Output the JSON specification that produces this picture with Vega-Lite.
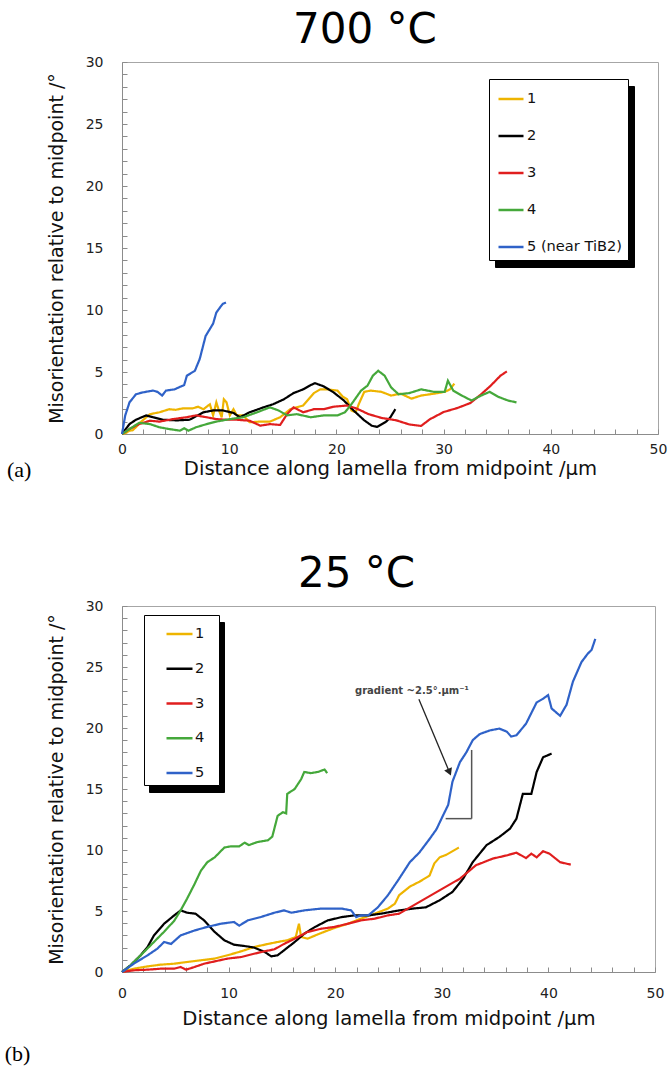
{
  "$schema": "https://vega.github.io/schema/vega-lite/v6.json",
  "background": "white",
  "padding": {"left": 4, "top": 8, "right": 2, "bottom": 5},
  "config": {
    "font": "DejaVu Sans",
    "view": {"stroke": "#a6a6a6", "strokeWidth": 1},
    "axis": {
      "grid": false, "domainColor": "#8c8c8c", "tickColor": "#8c8c8c", "tickSize": -5, "tickCount": 100,
      "labelFont": "DejaVu Sans", "labelFontSize": 14, "labelColor": "#222", "labelFlush": false, "labelOverlap": false,
      "titleFont": "DejaVu Sans", "titleFontWeight": "normal", "titleColor": "#111"
    },
    "axisX": {"titleFontSize": 19.6},
    "axisY": {"labelPadding": 24, "titlePadding": 19, "titleFontSize": 19}
  },
  "datasets": {
    "a": [
      {"s":"1","x":0,"y":0},{"s":"1","x":0.4,"y":0.1},{"s":"1","x":0.7,"y":0.27},{"s":"1","x":1.0,"y":0.3},{"s":"1","x":1.3,"y":0.55},{"s":"1","x":1.8,"y":1.0},{"s":"1","x":2.6,"y":1.6},{"s":"1","x":3.5,"y":1.75},{"s":"1","x":4.4,"y":2.0},{"s":"1","x":5.0,"y":1.95},{"s":"1","x":5.7,"y":2.07},{"s":"1","x":6.6,"y":2.07},{"s":"1","x":7.1,"y":2.2},{"s":"1","x":7.6,"y":2.0},{"s":"1","x":8.2,"y":2.4},{"s":"1","x":8.5,"y":1.5},{"s":"1","x":8.8,"y":2.55},{"s":"1","x":9.0,"y":2.0},{"s":"1","x":9.3,"y":1.35},{"s":"1","x":9.5,"y":2.8},{"s":"1","x":9.75,"y":2.55},{"s":"1","x":10.06,"y":1.5},{"s":"1","x":10.4,"y":2.0},{"s":"1","x":10.7,"y":1.5},{"s":"1","x":11.3,"y":1.5},{"s":"1","x":11.9,"y":0.95},{"s":"1","x":12.9,"y":1.0},{"s":"1","x":13.8,"y":1.0},{"s":"1","x":14.75,"y":1.35},{"s":"1","x":15.7,"y":2.0},{"s":"1","x":16.9,"y":2.3},{"s":"1","x":17.9,"y":3.3},{"s":"1","x":18.5,"y":3.6},{"s":"1","x":19.2,"y":3.6},{"s":"1","x":20.1,"y":3.5},{"s":"1","x":20.6,"y":3.0},{"s":"1","x":21.0,"y":2.8},{"s":"1","x":21.4,"y":1.9},{"s":"1","x":21.8,"y":1.75},{"s":"1","x":22.1,"y":2.44},{"s":"1","x":22.6,"y":3.4},{"s":"1","x":23.2,"y":3.5},{"s":"1","x":24.2,"y":3.4},{"s":"1","x":25.1,"y":3.1},{"s":"1","x":26.0,"y":3.25},{"s":"1","x":27.0,"y":2.85},{"s":"1","x":27.9,"y":3.1},{"s":"1","x":29.1,"y":3.25},{"s":"1","x":30.1,"y":3.4},{"s":"1","x":30.6,"y":3.6},{"s":"1","x":31.0,"y":4.06},
      {"s":"2","x":0,"y":0},{"s":"2","x":0.7,"y":0.8},{"s":"2","x":1.3,"y":1.15},{"s":"2","x":2.25,"y":1.5},{"s":"2","x":2.9,"y":1.35},{"s":"2","x":3.8,"y":1.15},{"s":"2","x":5.1,"y":1.1},{"s":"2","x":6.3,"y":1.15},{"s":"2","x":7.6,"y":1.75},{"s":"2","x":8.5,"y":1.9},{"s":"2","x":9.4,"y":1.9},{"s":"2","x":10.4,"y":1.7},{"s":"2","x":11.0,"y":1.35},{"s":"2","x":11.9,"y":1.75},{"s":"2","x":13.2,"y":2.15},{"s":"2","x":14.1,"y":2.4},{"s":"2","x":15.1,"y":2.8},{"s":"2","x":16.0,"y":3.3},{"s":"2","x":16.9,"y":3.6},{"s":"2","x":17.5,"y":3.9},{"s":"2","x":18.0,"y":4.1},{"s":"2","x":18.8,"y":3.85},{"s":"2","x":19.75,"y":3.35},{"s":"2","x":20.7,"y":2.7},{"s":"2","x":21.6,"y":1.9},{"s":"2","x":22.6,"y":1.1},{"s":"2","x":23.3,"y":0.67},{"s":"2","x":23.8,"y":0.57},{"s":"2","x":24.6,"y":0.97},{"s":"2","x":25.0,"y":1.3},{"s":"2","x":25.5,"y":2.0},
      {"s":"3","x":0,"y":0},{"s":"3","x":0.7,"y":0.4},{"s":"3","x":1.6,"y":0.8},{"s":"3","x":2.6,"y":1.07},{"s":"3","x":3.5,"y":1.0},{"s":"3","x":4.75,"y":1.2},{"s":"3","x":6.0,"y":1.35},{"s":"3","x":6.9,"y":1.5},{"s":"3","x":7.9,"y":1.35},{"s":"3","x":8.8,"y":1.2},{"s":"3","x":9.75,"y":1.15},{"s":"3","x":10.7,"y":1.15},{"s":"3","x":11.9,"y":1.07},{"s":"3","x":12.9,"y":0.67},{"s":"3","x":13.8,"y":0.8},{"s":"3","x":14.75,"y":0.73},{"s":"3","x":15.4,"y":1.6},{"s":"3","x":16.0,"y":2.15},{"s":"3","x":16.9,"y":1.75},{"s":"3","x":17.9,"y":2.0},{"s":"3","x":18.8,"y":2.0},{"s":"3","x":19.75,"y":2.2},{"s":"3","x":21.0,"y":2.3},{"s":"3","x":21.9,"y":2.05},{"s":"3","x":23.0,"y":1.6},{"s":"3","x":24.2,"y":1.3},{"s":"3","x":25.6,"y":1.1},{"s":"3","x":26.8,"y":0.77},{"s":"3","x":27.9,"y":0.65},{"s":"3","x":28.7,"y":1.18},{"s":"3","x":30.0,"y":1.77},{"s":"3","x":31.3,"y":2.1},{"s":"3","x":32.5,"y":2.5},{"s":"3","x":33.5,"y":3.2},{"s":"3","x":34.4,"y":3.9},{"s":"3","x":35.3,"y":4.7},{"s":"3","x":35.9,"y":5.05},
      {"s":"4","x":0,"y":0},{"s":"4","x":0.7,"y":0.4},{"s":"4","x":1.6,"y":0.9},{"s":"4","x":2.6,"y":0.8},{"s":"4","x":3.5,"y":0.54},{"s":"4","x":4.4,"y":0.4},{"s":"4","x":5.4,"y":0.27},{"s":"4","x":5.8,"y":0.46},{"s":"4","x":6.2,"y":0.27},{"s":"4","x":6.9,"y":0.54},{"s":"4","x":7.9,"y":0.8},{"s":"4","x":8.8,"y":1.0},{"s":"4","x":10.06,"y":1.2},{"s":"4","x":11.3,"y":1.35},{"s":"4","x":12.6,"y":1.75},{"s":"4","x":13.8,"y":2.15},{"s":"4","x":14.6,"y":1.9},{"s":"4","x":15.4,"y":1.5},{"s":"4","x":16.3,"y":1.6},{"s":"4","x":17.6,"y":1.35},{"s":"4","x":18.8,"y":1.5},{"s":"4","x":20.1,"y":1.5},{"s":"4","x":20.8,"y":1.75},{"s":"4","x":21.4,"y":2.4},{"s":"4","x":22.3,"y":3.5},{"s":"4","x":22.9,"y":3.9},{"s":"4","x":23.4,"y":4.7},{"s":"4","x":23.9,"y":5.1},{"s":"4","x":24.5,"y":4.7},{"s":"4","x":25.1,"y":3.76},{"s":"4","x":25.8,"y":3.2},{"s":"4","x":26.8,"y":3.3},{"s":"4","x":27.9,"y":3.6},{"s":"4","x":29.1,"y":3.4},{"s":"4","x":30.1,"y":3.4},{"s":"4","x":30.4,"y":4.3},{"s":"4","x":30.9,"y":3.5},{"s":"4","x":31.7,"y":3.1},{"s":"4","x":32.6,"y":2.7},{"s":"4","x":33.5,"y":3.1},{"s":"4","x":34.3,"y":3.4},{"s":"4","x":35.1,"y":3.0},{"s":"4","x":36.0,"y":2.7},{"s":"4","x":36.8,"y":2.55},
      {"s":"5 (near TiB2)","x":0,"y":0},{"s":"5 (near TiB2)","x":0.3,"y":1.5},{"s":"5 (near TiB2)","x":0.7,"y":2.55},{"s":"5 (near TiB2)","x":1.3,"y":3.2},{"s":"5 (near TiB2)","x":1.9,"y":3.35},{"s":"5 (near TiB2)","x":2.9,"y":3.5},{"s":"5 (near TiB2)","x":3.3,"y":3.4},{"s":"5 (near TiB2)","x":3.75,"y":3.1},{"s":"5 (near TiB2)","x":4.1,"y":3.5},{"s":"5 (near TiB2)","x":4.9,"y":3.6},{"s":"5 (near TiB2)","x":5.8,"y":3.95},{"s":"5 (near TiB2)","x":6.05,"y":4.7},{"s":"5 (near TiB2)","x":6.8,"y":5.1},{"s":"5 (near TiB2)","x":7.25,"y":6.05},{"s":"5 (near TiB2)","x":7.8,"y":7.9},{"s":"5 (near TiB2)","x":8.5,"y":8.9},{"s":"5 (near TiB2)","x":8.8,"y":9.8},{"s":"5 (near TiB2)","x":9.4,"y":10.5},{"s":"5 (near TiB2)","x":9.7,"y":10.6}
    ],
    "b": [
      {"s":"1","x":0,"y":0},{"s":"1","x":1.1,"y":0.27},{"s":"1","x":2.4,"y":0.46},{"s":"1","x":3.6,"y":0.6},{"s":"1","x":4.9,"y":0.68},{"s":"1","x":6.1,"y":0.82},{"s":"1","x":7.4,"y":0.96},{"s":"1","x":8.7,"y":1.1},{"s":"1","x":9.9,"y":1.37},{"s":"1","x":11.2,"y":1.7},{"s":"1","x":12.4,"y":2.05},{"s":"1","x":13.7,"y":2.3},{"s":"1","x":14.6,"y":2.46},{"s":"1","x":15.5,"y":2.6},{"s":"1","x":16.3,"y":2.87},{"s":"1","x":16.6,"y":3.96},{"s":"1","x":16.8,"y":2.87},{"s":"1","x":17.4,"y":2.73},{"s":"1","x":18.7,"y":3.2},{"s":"1","x":19.9,"y":3.6},{"s":"1","x":21.2,"y":3.96},{"s":"1","x":22.4,"y":4.37},{"s":"1","x":23.7,"y":4.78},{"s":"1","x":24.95,"y":5.2},{"s":"1","x":25.6,"y":5.6},{"s":"1","x":26.0,"y":6.3},{"s":"1","x":27.0,"y":7.0},{"s":"1","x":27.9,"y":7.4},{"s":"1","x":28.85,"y":7.9},{"s":"1","x":29.3,"y":8.9},{"s":"1","x":29.8,"y":9.4},{"s":"1","x":30.4,"y":9.6},{"s":"1","x":31.6,"y":10.2},
      {"s":"2","x":0,"y":0},{"s":"2","x":0.8,"y":0.55},{"s":"2","x":1.75,"y":1.37},{"s":"2","x":2.4,"y":2.05},{"s":"2","x":3.0,"y":3.0},{"s":"2","x":3.95,"y":3.96},{"s":"2","x":4.9,"y":4.64},{"s":"2","x":5.5,"y":5.05},{"s":"2","x":6.1,"y":4.86},{"s":"2","x":6.9,"y":4.78},{"s":"2","x":7.7,"y":4.23},{"s":"2","x":8.7,"y":3.28},{"s":"2","x":9.6,"y":2.6},{"s":"2","x":10.5,"y":2.24},{"s":"2","x":11.5,"y":2.13},{"s":"2","x":12.4,"y":2.0},{"s":"2","x":13.4,"y":1.64},{"s":"2","x":14.0,"y":1.28},{"s":"2","x":14.6,"y":1.37},{"s":"2","x":15.2,"y":1.78},{"s":"2","x":16.2,"y":2.46},{"s":"2","x":17.1,"y":3.14},{"s":"2","x":18.1,"y":3.69},{"s":"2","x":19.3,"y":4.23},{"s":"2","x":20.6,"y":4.5},{"s":"2","x":21.8,"y":4.64},{"s":"2","x":23.1,"y":4.64},{"s":"2","x":24.3,"y":4.78},{"s":"2","x":26.0,"y":5.05},{"s":"2","x":27.3,"y":5.2},{"s":"2","x":28.5,"y":5.3},{"s":"2","x":29.8,"y":5.88},{"s":"2","x":31.0,"y":6.56},{"s":"2","x":32.0,"y":7.65},{"s":"2","x":32.9,"y":9.0},{"s":"2","x":34.2,"y":10.4},{"s":"2","x":35.4,"y":11.07},{"s":"2","x":36.4,"y":11.75},{"s":"2","x":37.0,"y":12.56},{"s":"2","x":37.6,"y":14.6},{"s":"2","x":38.4,"y":14.6},{"s":"2","x":38.9,"y":16.4},{"s":"2","x":39.5,"y":17.6},{"s":"2","x":40.3,"y":17.9},
      {"s":"3","x":0,"y":0},{"s":"3","x":1.1,"y":0.14},{"s":"3","x":2.4,"y":0.19},{"s":"3","x":3.6,"y":0.27},{"s":"3","x":4.9,"y":0.27},{"s":"3","x":5.5,"y":0.41},{"s":"3","x":6.0,"y":0.19},{"s":"3","x":6.8,"y":0.41},{"s":"3","x":7.7,"y":0.68},{"s":"3","x":8.7,"y":0.87},{"s":"3","x":9.9,"y":1.1},{"s":"3","x":11.2,"y":1.23},{"s":"3","x":12.4,"y":1.5},{"s":"3","x":13.4,"y":1.7},{"s":"3","x":14.3,"y":1.86},{"s":"3","x":15.2,"y":2.3},{"s":"3","x":16.2,"y":2.73},{"s":"3","x":17.4,"y":3.28},{"s":"3","x":18.7,"y":3.55},{"s":"3","x":19.9,"y":3.69},{"s":"3","x":21.2,"y":3.96},{"s":"3","x":22.4,"y":4.23},{"s":"3","x":23.7,"y":4.37},{"s":"3","x":24.95,"y":4.64},{"s":"3","x":26.0,"y":4.78},{"s":"3","x":27.9,"y":5.74},{"s":"3","x":29.8,"y":6.7},{"s":"3","x":31.7,"y":7.65},{"s":"3","x":33.2,"y":8.75},{"s":"3","x":34.8,"y":9.3},{"s":"3","x":36.1,"y":9.56},{"s":"3","x":37.0,"y":9.78},{"s":"3","x":37.9,"y":9.34},{"s":"3","x":38.4,"y":9.7},{"s":"3","x":38.9,"y":9.4},{"s":"3","x":39.5,"y":9.9},{"s":"3","x":40.1,"y":9.7},{"s":"3","x":41.1,"y":9.0},{"s":"3","x":42.1,"y":8.8},
      {"s":"4","x":0,"y":0},{"s":"4","x":0.8,"y":0.55},{"s":"4","x":1.75,"y":1.37},{"s":"4","x":2.7,"y":2.2},{"s":"4","x":3.95,"y":3.3},{"s":"4","x":4.9,"y":4.2},{"s":"4","x":5.5,"y":5.05},{"s":"4","x":6.1,"y":6.0},{"s":"4","x":6.8,"y":7.2},{"s":"4","x":7.4,"y":8.3},{"s":"4","x":8.0,"y":9.0},{"s":"4","x":8.7,"y":9.4},{"s":"4","x":9.6,"y":10.2},{"s":"4","x":10.2,"y":10.3},{"s":"4","x":11.0,"y":10.3},{"s":"4","x":11.5,"y":10.6},{"s":"4","x":11.9,"y":10.4},{"s":"4","x":12.7,"y":10.65},{"s":"4","x":13.7,"y":10.8},{"s":"4","x":14.1,"y":11.1},{"s":"4","x":14.6,"y":12.8},{"s":"4","x":15.1,"y":13.1},{"s":"4","x":15.4,"y":13.0},{"s":"4","x":15.5,"y":14.6},{"s":"4","x":16.2,"y":15.0},{"s":"4","x":16.8,"y":15.8},{"s":"4","x":17.1,"y":16.4},{"s":"4","x":17.7,"y":16.3},{"s":"4","x":18.4,"y":16.4},{"s":"4","x":19.0,"y":16.6},{"s":"4","x":19.25,"y":16.3},
      {"s":"5","x":0,"y":0},{"s":"5","x":1.1,"y":0.68},{"s":"5","x":2.4,"y":1.37},{"s":"5","x":3.3,"y":1.9},{"s":"5","x":3.95,"y":2.46},{"s":"5","x":4.6,"y":2.3},{"s":"5","x":5.5,"y":3.0},{"s":"5","x":6.8,"y":3.4},{"s":"5","x":8.0,"y":3.7},{"s":"5","x":9.3,"y":3.96},{"s":"5","x":10.5,"y":4.1},{"s":"5","x":11.0,"y":3.8},{"s":"5","x":11.8,"y":4.23},{"s":"5","x":13.0,"y":4.5},{"s":"5","x":14.3,"y":4.86},{"s":"5","x":15.2,"y":5.05},{"s":"5","x":15.9,"y":4.86},{"s":"5","x":17.1,"y":5.05},{"s":"5","x":18.7,"y":5.2},{"s":"5","x":20.6,"y":5.2},{"s":"5","x":21.5,"y":5.05},{"s":"5","x":21.97,"y":4.5},{"s":"5","x":22.4,"y":4.64},{"s":"5","x":23.1,"y":4.64},{"s":"5","x":24.0,"y":5.3},{"s":"5","x":24.95,"y":6.3},{"s":"5","x":26.0,"y":7.65},{"s":"5","x":27.0,"y":9.0},{"s":"5","x":27.9,"y":9.8},{"s":"5","x":28.85,"y":10.9},{"s":"5","x":29.5,"y":11.7},{"s":"5","x":30.1,"y":12.8},{"s":"5","x":30.6,"y":13.7},{"s":"5","x":31.0,"y":15.6},{"s":"5","x":31.7,"y":17.2},{"s":"5","x":32.3,"y":18.0},{"s":"5","x":32.9,"y":19.0},{"s":"5","x":33.55,"y":19.5},{"s":"5","x":34.5,"y":19.8},{"s":"5","x":35.4,"y":19.95},{"s":"5","x":36.1,"y":19.7},{"s":"5","x":36.5,"y":19.3},{"s":"5","x":37.0,"y":19.4},{"s":"5","x":37.9,"y":20.35},{"s":"5","x":38.9,"y":22.1},{"s":"5","x":39.5,"y":22.4},{"s":"5","x":39.97,"y":22.7},{"s":"5","x":40.3,"y":21.6},{"s":"5","x":41.1,"y":21.0},{"s":"5","x":41.7,"y":21.9},{"s":"5","x":42.3,"y":23.8},{"s":"5","x":43.1,"y":25.4},{"s":"5","x":43.7,"y":26.1},{"s":"5","x":44.05,"y":26.4},{"s":"5","x":44.4,"y":27.3}
    ],
    "alab": [{"label": "(a)", "x": -9.6, "y": -2.9}],
    "blab": [{"label": "(b)", "x": -9.8, "y": -6.7}],
    "arrow": [{"x": 27.85, "y": 22.35, "x2": 30.72, "y2": 16.38}],
    "head": [{"x": 30.72, "y": 16.38}],
    "tri": [{"x": 30.36, "y": 12.57, "x2": 32.8, "y2": 12.57}, {"x": 32.8, "y": 12.57, "x2": 32.8, "y2": 18.2}],
    "note": [{"label": "gradient ~2.5°.µm⁻¹", "x": 27.2, "y": 23.0}]
  },
  "spacing": 172,
  "bounds": "flush",
  "resolve": {
    "scale": {"color": "independent", "strokeDash": "independent"},
    "legend": {"color": "independent", "strokeDash": "independent"}
  },
  "vconcat": [
    {
      "width": 536,
      "height": 372,
      "title": {"text": "700 °C", "fontSize": 42, "font": "DejaVu Sans", "fontWeight": "normal", "color": "black", "anchor": "middle", "frame": "group", "dx": -25, "baseline": "alphabetic", "offset": -30},
      "layer": [
        {
          "data": {"name": "a"},
          "mark": {"type": "line", "strokeWidth": 2.2},
          "encoding": {
            "x": {"field": "x", "type": "quantitative", "scale": {"domain": [0, 50]},
              "axis": {"title": "Distance along lamella from midpoint /µm", "format": "d", "tickCount": 100, "labelOverlap": false, "labelFlush": false, "labelPadding": 13, "titlePadding": 3, "values": [0,2,4,6,8,10,12,14,16,18,20,22,24,26,28,30,32,34,36,38,40,42,44,46,48,50], "labelExpr": "datum.value % 10 === 0 ? datum.label : ''"}},
            "y": {"field": "y", "type": "quantitative", "scale": {"domain": [0, 30]},
              "axis": {"title": "Misorientation relative to midpoint /°", "format": "d", "tickCount": 100, "labelOverlap": false, "values": [0,1,2,3,4,5,6,7,8,9,10,11,12,13,14,15,16,17,18,19,20,21,22,23,24,25,26,27,28,29,30], "labelExpr": "datum.value % 5 === 0 ? datum.label : ''"}},
            "color": {"field": "s", "type": "nominal",
              "scale": {"domain": ["1", "2", "3", "4", "5 (near TiB2)"], "range": ["#eeb400", "#000000", "#e01e1e", "#45a83b", "#2f62c8"]},
              "legend": {"orient": "none", "legendX": 367, "legendY": 17, "title": null, "symbolType": "stroke", "symbolSize": 625, "symbolStrokeWidth": 2.5, "labelFont": "DejaVu Sans", "labelFontSize": 14.6, "labelColor": "#111", "padding": 6, "rowPadding": 16, "symbolOffset": 2, "labelOffset": 2, "fillColor": "white", "strokeColor": "black", "zindex": 1}},
            "strokeDash": {"field": "s", "type": "nominal",
              "scale": {"range": [[1, 0], [1, 0], [1, 0], [1, 0], [1, 0]]},
              "legend": {"orient": "none", "legendX": 373, "legendY": 24, "title": null, "symbolType": "stroke", "symbolSize": 625, "symbolStrokeWidth": 2.5, "symbolStrokeColor": "black", "labelFont": "DejaVu Sans", "labelFontSize": 14.6, "labelColor": "black", "labelOpacity": 0, "padding": 6, "rowPadding": 16, "symbolOffset": 2, "labelOffset": 2, "fillColor": "black", "strokeColor": "black", "zindex": 0}}
          }
        },
        {
          "data": {"name": "alab"},
          "mark": {"type": "text", "font": "Liberation Serif", "fontSize": 22, "color": "black"},
          "encoding": {
            "x": {"field": "x", "type": "quantitative"},
            "y": {"field": "y", "type": "quantitative"},
            "text": {"field": "label"}
          }
        }
      ]
    },
    {
      "width": 533,
      "height": 366,
      "title": {"text": "25 °C", "fontSize": 42, "font": "DejaVu Sans", "fontWeight": "normal", "color": "black", "anchor": "middle", "frame": "group", "dx": -32, "baseline": "alphabetic", "offset": -30},
      "layer": [
        {
          "data": {"name": "b"},
          "mark": {"type": "line", "strokeWidth": 2.2},
          "encoding": {
            "x": {"field": "x", "type": "quantitative", "scale": {"domain": [0, 50]},
              "axis": {"title": "Distance along lamella from midpoint /µm", "format": "d", "tickCount": 100, "labelOverlap": false, "labelFlush": false, "labelPadding": 19, "titlePadding": 9, "values": [0,2,4,6,8,10,12,14,16,18,20,22,24,26,28,30,32,34,36,38,40,42,44,46,48,50], "labelExpr": "datum.value % 10 === 0 ? datum.label : ''"}},
            "y": {"field": "y", "type": "quantitative", "scale": {"domain": [0, 30]},
              "axis": {"title": "Misorientation relative to midpoint /°", "format": "d", "tickCount": 100, "labelOverlap": false, "values": [0,1,2,3,4,5,6,7,8,9,10,11,12,13,14,15,16,17,18,19,20,21,22,23,24,25,26,27,28,29,30], "labelExpr": "datum.value % 5 === 0 ? datum.label : ''"}},
            "color": {"field": "s", "type": "nominal",
              "scale": {"domain": ["1", "2", "3", "4", "5"], "range": ["#eeb400", "#000000", "#e01e1e", "#45a83b", "#2f62c8"]},
              "legend": {"orient": "none", "legendX": 22, "legendY": 9, "title": "\u00a0", "titleOrient": "right", "titlePadding": 10, "titleFontSize": 14.6, "symbolType": "stroke", "symbolSize": 676, "symbolStrokeWidth": 2.5, "labelFont": "DejaVu Sans", "labelFontSize": 14.6, "labelColor": "#111", "padding": 4.5, "rowPadding": 12.75, "symbolOffset": 16.5, "labelOffset": 1, "fillColor": "white", "strokeColor": "black", "zindex": 1}},
            "strokeDash": {"field": "s", "type": "nominal",
              "scale": {"range": [[1, 0], [1, 0], [1, 0], [1, 0], [1, 0]]},
              "legend": {"orient": "none", "legendX": 27, "legendY": 16, "title": "\u00a0", "titleOrient": "right", "titlePadding": 10, "titleFontSize": 14.6, "symbolType": "stroke", "symbolSize": 676, "symbolStrokeWidth": 2.5, "symbolStrokeColor": "black", "labelFont": "DejaVu Sans", "labelFontSize": 14.6, "labelColor": "black", "labelOpacity": 0, "padding": 4.5, "rowPadding": 12.75, "symbolOffset": 16.5, "labelOffset": 1, "fillColor": "black", "strokeColor": "black", "zindex": 0}}
          }
        },
        {
          "data": {"name": "blab"},
          "mark": {"type": "text", "font": "Liberation Serif", "fontSize": 22, "color": "black"},
          "encoding": {
            "x": {"field": "x", "type": "quantitative"},
            "y": {"field": "y", "type": "quantitative"},
            "text": {"field": "label"}
          }
        },
        {
          "data": {"name": "tri"},
          "mark": {"type": "rule", "color": "#555555", "strokeWidth": 1.5},
          "encoding": {
            "x": {"field": "x", "type": "quantitative"},
            "y": {"field": "y", "type": "quantitative"},
            "x2": {"field": "x2"},
            "y2": {"field": "y2"}
          }
        },
        {
          "data": {"name": "arrow"},
          "mark": {"type": "rule", "color": "#222222", "strokeWidth": 1.3},
          "encoding": {
            "x": {"field": "x", "type": "quantitative"},
            "y": {"field": "y", "type": "quantitative"},
            "x2": {"field": "x2"},
            "y2": {"field": "y2"}
          }
        },
        {
          "data": {"name": "head"},
          "mark": {"type": "point", "shape": "triangle-down", "filled": true, "color": "#222222", "size": 70, "angle": 337, "opacity": 1},
          "encoding": {
            "x": {"field": "x", "type": "quantitative"},
            "y": {"field": "y", "type": "quantitative"}
          }
        },
        {
          "data": {"name": "note"},
          "mark": {"type": "text", "font": "DejaVu Sans", "fontSize": 10, "fontWeight": "bold", "color": "#444444"},
          "encoding": {
            "x": {"field": "x", "type": "quantitative"},
            "y": {"field": "y", "type": "quantitative"},
            "text": {"field": "label"}
          }
        }
      ]
    }
  ]
}
